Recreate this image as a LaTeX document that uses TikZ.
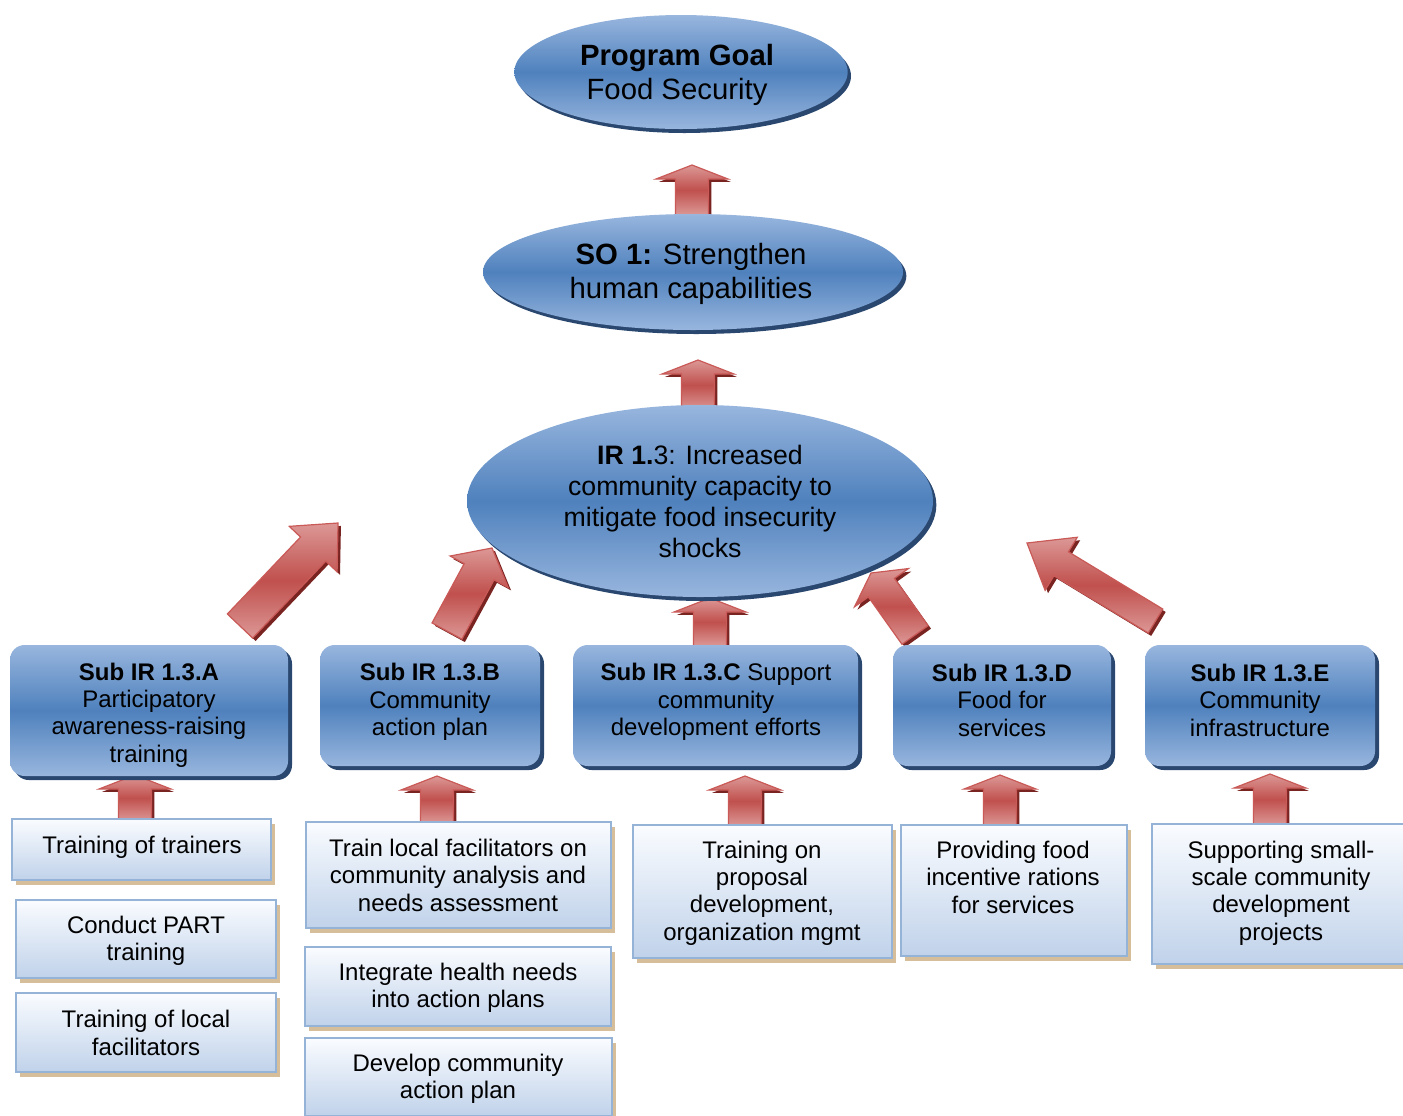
\documentclass[tikz,border=0pt]{standalone}
\usepackage{fontspec}
\setmainfont{Liberation Sans}
\usetikzlibrary{calc,shadows,shapes.geometric}
\definecolor{blight}{HTML}{98B6DE}
\definecolor{bmid}{HTML}{4F81BD}
\definecolor{bshadow}{HTML}{2A4770}
\definecolor{actTop}{HTML}{FAFCFF}
\definecolor{actBot}{HTML}{C0D2EA}
\definecolor{actBorder}{HTML}{95B3D7}
\definecolor{actShadow}{HTML}{D6BE9A}
\definecolor{arrLight}{HTML}{DC9896}
\definecolor{arrMid}{HTML}{C0504D}
\definecolor{arrBorder}{HTML}{C95A57}
\definecolor{arrShadow}{HTML}{7A2422}
\tikzset{
  goalell/.style={ellipse, inner sep=0pt, top color=blight, bottom color=blight, middle color=bmid,
    drop shadow={shadow xshift=2.5pt, shadow yshift=-3pt, fill=bshadow, opacity=1}},
  subbox/.style={rectangle, rounded corners=11pt, inner sep=0pt, top color=blight, bottom color=blight, middle color=bmid,
    drop shadow={shadow xshift=3pt, shadow yshift=-3pt, fill=bshadow, opacity=1}},
  actbox/.style={rectangle, inner sep=0pt, top color=actTop, bottom color=actBot, draw=actBorder, line width=1.5pt,
    drop shadow={shadow xshift=3pt, shadow yshift=-3.5pt, fill=actShadow, opacity=1}},
  bigtxt/.style={align=center, inner sep=0pt, font=\fontsize{22}{26}\selectfont},
  irtxt/.style={align=center, inner sep=0pt, font=\fontsize{20}{23.25}\selectfont},
  boxtxt/.style={align=center, inner sep=0pt, font=\fontsize{18}{20.6}\selectfont},
  arrowbody/.style={top color=arrLight, bottom color=arrLight, middle color=arrMid, draw=arrBorder, line width=0.9pt, line join=miter},
  arrowshade/.style={fill=arrShadow},
}
% #1 tail, #2 tip, #3 half shaft, #4 half head, #5 head length, #6 name
\newcommand\blockarrow[6]{%
  \coordinate (#6c) at ($(#2)!#5!(#1)$);
  \fill[arrowshade, transform canvas={shift={(2.2pt,-2.2pt)}}]
    ($(#1)!#3!90:(#2)$) -- ($(#6c)!#3!90:(#2)$) -- ($(#6c)!#4!90:(#2)$) -- (#2) --
    ($(#6c)!#4!-90:(#2)$) -- ($(#6c)!#3!-90:(#2)$) -- ($(#1)!#3!-90:(#2)$) -- cycle;
  \path[arrowbody]
    ($(#1)!#3!90:(#2)$) -- ($(#6c)!#3!90:(#2)$) -- ($(#6c)!#4!90:(#2)$) -- (#2) --
    ($(#6c)!#4!-90:(#2)$) -- ($(#6c)!#3!-90:(#2)$) -- ($(#1)!#3!-90:(#2)$) -- cycle;
}
\begin{document}
\begin{tikzpicture}[x=0.75pt,y=-0.75pt]
\useasboundingbox (0,0) rectangle (1403,1115);
\fill[white] (0,0) rectangle (1403,1115);

% arrow end points
\coordinate (g1t) at (692,215); \coordinate (g1h) at (692,165);
\coordinate (g2t) at (698,410); \coordinate (g2h) at (698,360);
\coordinate (g3t) at (710,646); \coordinate (g3h) at (710,598);
\coordinate (dAt) at (240,626); \coordinate (dAh) at (338,523);
\coordinate (dBt) at (447,631); \coordinate (dBh) at (492,548);
\coordinate (dDt) at (915,635); \coordinate (dDh) at (871,573);
\coordinate (dEt) at (1155.5,621); \coordinate (dEh) at (1027,543);
\coordinate (aAt) at (135,821); \coordinate (aAh) at (135,775);
\coordinate (aBt) at (437,823); \coordinate (aBh) at (437,776);
\coordinate (aCt) at (745,826); \coordinate (aCh) at (745,776);
\coordinate (aDt) at (1000,826); \coordinate (aDh) at (1000,775);
\coordinate (aEt) at (1270,825); \coordinate (aEh) at (1270,774);

% arrows
\blockarrow{g1t}{g1h}{12.4pt}{27pt}{10.5pt}{g1}
\blockarrow{g2t}{g2h}{12.4pt}{27pt}{10.5pt}{g2}
\blockarrow{g3t}{g3h}{12.4pt}{27pt}{10.5pt}{g3}
\blockarrow{dAt}{dAh}{13.1pt}{24.75pt}{27pt}{dA}
\blockarrow{dBt}{dBh}{12.75pt}{24.75pt}{20.25pt}{dB}
\blockarrow{dDt}{dDh}{12pt}{24.75pt}{13.5pt}{dD}
\blockarrow{dEt}{dEh}{10.5pt}{23.25pt}{30pt}{dE}
\blockarrow{aAt}{aAh}{12.4pt}{27pt}{10.5pt}{aA}
\blockarrow{aBt}{aBh}{12.4pt}{27pt}{10.5pt}{aB}
\blockarrow{aCt}{aCh}{12.4pt}{27pt}{10.5pt}{aC}
\blockarrow{aDt}{aDh}{12.4pt}{27pt}{10.5pt}{aD}
\blockarrow{aEt}{aEh}{12.4pt}{27pt}{10.5pt}{aE}

% ellipses
\node[goalell, minimum width=250pt, minimum height=85.5pt] (goal) at (681,72) {};
\node[bigtxt] (goaltxt) at (677,75) {\textbf{Program Goal}\\Food Security};
\node[goalell, minimum width=315pt, minimum height=87pt] (so) at (693,272) {};
\node[bigtxt, font=\fontsize{22}{25.5}\selectfont] (sotxt) at (691,274) {\textbf{SO 1:} Strengthen\\human capabilities};
\node[goalell, minimum width=349.5pt, minimum height=144pt] (ir) at (700,501) {};
\node[irtxt] (irtxt) at (700,501) {\textbf{IR 1.}3: Increased\\community capacity to\\mitigate food insecurity\\shocks};

% sub IR boxes
\node[subbox, minimum width=208.5pt, minimum height=98.25pt] (sA) at (149,710.5) {};
\node[boxtxt] (sAtxt) at (149,715) {\textbf{Sub IR 1.3.A}\\Participatory\\awareness-raising\\training};
\node[subbox, minimum width=165pt, minimum height=90.75pt] (sB) at (430,705.5) {};
\node[boxtxt] (sBtxt) at (430,702) {\textbf{Sub IR 1.3.B}\\Community\\action plan};
\node[subbox, minimum width=213.75pt, minimum height=90.75pt] (sC) at (715.5,705.5) {};
\node[boxtxt] (sCtxt) at (716,702) {\textbf{Sub IR 1.3.C} Support\\community\\development efforts};
\node[subbox, minimum width=163.5pt, minimum height=90.75pt] (sD) at (1002,705.5) {};
\node[boxtxt] (sDtxt) at (1002,700) {\textbf{Sub IR 1.3.D}\\Food for\\services};
\node[subbox, minimum width=172.5pt, minimum height=90.75pt] (sE) at (1260,705.5) {};
\node[boxtxt] (sEtxt) at (1260,700) {\textbf{Sub IR 1.3.E}\\Community\\infrastructure};

% activity boxes
\node[actbox, minimum width=194.25pt, minimum height=45.75pt] (a1) at (141.5,849.5) {};
\node[boxtxt] (a1txt) at (142,847) {Training of trainers};
\node[actbox, minimum width=195pt, minimum height=58.5pt] (a2) at (146,939) {};
\node[boxtxt] (a2txt) at (146,941) {Conduct PART\\training};
\node[actbox, minimum width=195pt, minimum height=59.25pt] (a3) at (146,1032.5) {};
\node[boxtxt] (a3txt) at (146,1033) {Training of local\\facilitators};
\node[actbox, minimum width=228.75pt, minimum height=79.5pt] (b1) at (458.5,875) {};
\node[boxtxt] (b1txt) at (458,875) {Train local facilitators on\\community analysis and\\needs assessment};
\node[actbox, minimum width=229.5pt, minimum height=59.25pt] (b2) at (458,986.5) {};
\node[boxtxt] (b2txt) at (458,988) {Integrate health needs\\into action plans};
\node[actbox, minimum width=230.25pt, minimum height=58.5pt] (b3) at (458.5,1077) {};
\node[boxtxt] (b3txt) at (458,1079) {Develop community\\action plan};
\node[actbox, minimum width=194.25pt, minimum height=99.75pt] (c1) at (762.5,891.5) {};
\node[boxtxt] (c1txt) at (762,893) {Training on\\proposal\\development,\\organization mgmt};
\node[actbox, minimum width=169.5pt, minimum height=98.25pt] (d1) at (1014,890.5) {};
\node[boxtxt] (d1txt) at (1013,877) {Providing food\\incentive rations\\for services};
\node[actbox, minimum width=193.5pt, minimum height=105pt] (e1) at (1281,894) {};
\node[boxtxt] (e1txt) at (1281,893) {Supporting small-\\scale community\\development\\projects};
\end{tikzpicture}
\end{document}
